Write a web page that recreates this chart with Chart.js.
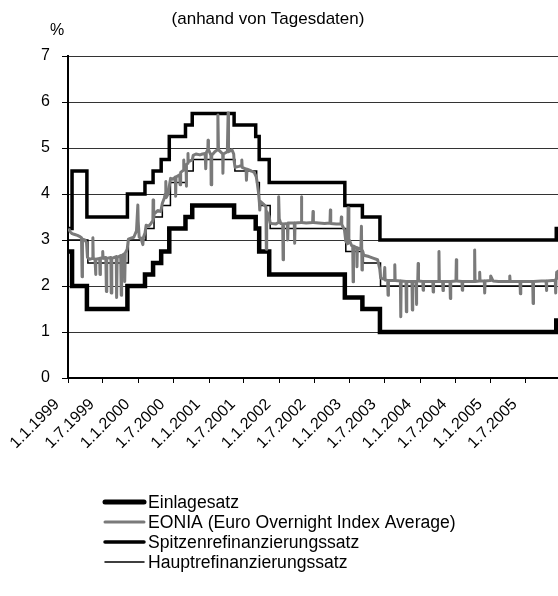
<!DOCTYPE html>
<html>
<head>
<meta charset="utf-8">
<script src="https://cdn.jsdelivr.net/npm/chart.js@4/dist/chart.umd.min.js"></script>
<style>
  html, body { margin: 0; padding: 0; background: #fff; }
  #wrap { width: 558px; height: 596px; position: relative; }
</style>
</head>
<body>
<div id="wrap"><canvas id="c"></canvas></div>
<script>
// ECB standing facilities (deposit / marginal lending), effective dates
const corridorDates = ['1999-01-01','1999-01-22','1999-04-09','1999-11-05','2000-02-04','2000-03-17',
  '2000-04-28','2000-06-09','2000-09-01','2000-10-06','2001-05-11','2001-08-31','2001-09-18',
  '2001-11-09','2002-12-06','2003-03-07','2003-06-06','2005-12-06','2005-12-31'];
const depositRate = [2.75,2.00,1.50,2.00,2.25,2.50,2.75,3.25,3.50,3.75,3.50,3.25,2.75,2.25,1.75,1.50,1.00,1.25,1.25];
const lendingRate = [3.25,4.50,3.50,4.00,4.25,4.50,4.75,5.25,5.50,5.75,5.50,5.25,4.75,4.25,3.75,3.50,3.00,3.25,3.25];

// Main refinancing operations rate
const mainRateDates = ['1999-01-01','1999-04-14','1999-11-10','2000-02-09','2000-03-22','2000-05-04',
  '2000-06-15','2000-09-06','2000-10-11','2001-05-15','2001-09-05','2001-09-19','2001-11-14',
  '2002-12-11','2003-03-12','2003-06-09','2005-12-06','2005-12-31'];
const mainRate = [3.00,2.50,3.00,3.25,3.50,3.75,4.25,4.50,4.75,4.50,4.25,3.75,3.25,2.75,2.50,2.00,2.25,2.25];

// EONIA, daily observations (selected days)
const eoniaDates = [
  '1999-01-04','1999-01-12','1999-01-22','1999-02-05','1999-02-19','1999-03-01','1999-03-12','1999-03-15','1999-03-17','1999-03-29',
  '1999-04-07','1999-04-12','1999-04-23','1999-05-07','1999-05-10','1999-05-12','1999-05-21','1999-05-24','1999-05-26','1999-06-14',
  '1999-06-16','1999-06-18','1999-06-29','1999-06-30','1999-07-02','1999-07-16','1999-07-19','1999-07-21','1999-08-11','1999-08-13',
  '1999-08-16','1999-09-08','1999-09-10','1999-09-13','1999-10-01','1999-10-04','1999-10-06','1999-10-20','1999-10-22','1999-10-25',
  '1999-11-04','1999-11-10','1999-11-23','1999-12-08','1999-12-22','1999-12-29','1999-12-31',
  '2000-01-05','2000-01-14','2000-01-24','2000-01-27','2000-02-04','2000-02-10','2000-02-23','2000-03-06','2000-03-16','2000-03-17',
  '2000-03-20','2000-03-23','2000-04-10','2000-04-26','2000-05-04','2000-05-15','2000-05-19','2000-05-22','2000-05-24','2000-06-05',
  '2000-06-09','2000-06-16','2000-06-28','2000-07-11','2000-07-12','2000-07-14','2000-08-02','2000-08-04','2000-08-07','2000-08-22',
  '2000-08-23','2000-08-25','2000-09-04','2000-09-05','2000-09-07','2000-09-13','2000-09-14','2000-09-15','2000-10-06','2000-10-11',
  '2000-10-25','2000-11-15','2000-11-28','2000-12-12','2000-12-15','2000-12-18','2000-12-26','2000-12-27','2000-12-29',
  '2001-01-08','2001-01-11','2001-01-12','2001-01-15','2001-01-31','2001-02-14','2001-02-16','2001-02-19','2001-03-01','2001-03-13',
  '2001-03-14','2001-03-16','2001-04-06','2001-04-10','2001-04-12','2001-04-30','2001-05-09','2001-05-11','2001-05-16','2001-06-05',
  '2001-06-19','2001-06-20','2001-06-22','2001-07-12','2001-07-14','2001-07-17','2001-08-08','2001-08-23','2001-09-03','2001-09-07',
  '2001-09-14','2001-09-19','2001-09-21','2001-09-24','2001-10-10','2001-10-23','2001-10-25','2001-10-27','2001-11-08','2001-11-14',
  '2001-11-23','2001-12-14','2001-12-27','2001-12-28','2001-12-31',
  '2002-01-08','2002-01-18','2002-01-20','2002-01-22','2002-02-11','2002-02-13','2002-02-15','2002-03-19','2002-03-21','2002-03-23',
  '2002-04-23','2002-04-25','2002-04-27','2002-05-20','2002-06-22','2002-06-24','2002-06-26','2002-07-24','2002-08-23','2002-09-20',
  '2002-09-22','2002-09-24','2002-10-23','2002-11-16','2002-11-18','2002-11-20','2002-12-04','2002-12-11','2002-12-21','2002-12-23',
  '2002-12-27',
  '2003-01-10','2003-01-16','2003-01-18','2003-01-20','2003-02-05','2003-02-07','2003-02-09','2003-02-27','2003-03-02','2003-03-05',
  '2003-03-07','2003-03-14','2003-04-10','2003-05-05','2003-05-25','2003-06-05','2003-06-10','2003-06-27','2003-07-01','2003-07-03',
  '2003-07-16','2003-07-18','2003-07-20','2003-08-20','2003-08-22','2003-08-24','2003-09-20','2003-09-22','2003-09-24','2003-10-19',
  '2003-10-21','2003-10-23','2003-11-19','2003-11-21','2003-11-23','2003-12-10','2003-12-12','2003-12-14','2003-12-19','2003-12-21',
  '2003-12-23',
  '2004-01-14','2004-01-16','2004-01-18','2004-02-20','2004-03-06','2004-03-08','2004-03-10','2004-04-05','2004-04-07','2004-04-09',
  '2004-04-26','2004-04-28','2004-04-30','2004-06-03','2004-06-05','2004-06-07','2004-07-04','2004-07-06','2004-07-08','2004-08-04',
  '2004-08-06','2004-08-08','2004-09-15','2004-10-07','2004-10-09','2004-10-11','2004-11-02','2004-11-04','2004-11-06','2004-11-28',
  '2004-11-30','2004-12-02','2004-12-29','2004-12-31',
  '2005-01-12','2005-02-10','2005-03-10','2005-04-07','2005-04-09','2005-04-11','2005-06-01','2005-06-03','2005-06-05','2005-07-12',
  '2005-08-06','2005-08-08','2005-08-10','2005-09-20','2005-10-14','2005-10-16','2005-10-18','2005-11-15','2005-12-01','2005-12-03',
  '2005-12-05','2005-12-08','2005-12-30'
];
const eoniaValues = [
  3.25,3.18,3.14,3.12,3.10,3.08,3.05,2.20,3.02,3.00,
  2.95,2.62,2.58,2.60,3.05,2.60,2.58,2.25,2.58,2.60,
  2.25,2.60,2.62,2.75,2.60,2.62,1.88,2.60,2.62,1.85,
  2.60,2.64,1.75,2.62,2.66,1.80,2.66,2.70,2.10,2.72,
  2.80,3.02,3.04,3.06,3.20,3.76,3.40,
  3.06,3.04,2.90,3.06,3.15,3.32,3.30,3.36,3.42,3.87,
  3.47,3.57,3.64,3.62,3.80,3.92,4.00,4.27,3.92,4.02,
  4.17,4.34,4.32,4.37,3.95,4.37,4.42,4.20,4.47,4.52,
  4.74,4.56,4.60,4.17,4.64,4.67,4.88,4.70,4.74,4.84,
  4.87,4.85,4.87,4.88,4.55,4.90,4.97,5.17,4.97,
  4.87,4.84,4.20,4.84,4.92,4.96,5.72,4.96,4.92,4.87,
  4.45,4.87,4.92,5.76,4.92,4.96,4.87,4.72,4.58,4.60,
  4.62,4.74,4.58,4.54,4.30,4.54,4.50,4.47,4.37,4.27,
  4.05,3.82,3.65,3.84,3.78,3.72,2.80,3.62,3.52,3.37,
  3.36,3.35,3.38,3.94,3.46,
  3.36,3.35,2.57,3.35,3.36,3.00,3.37,3.37,2.93,3.37,
  3.38,3.94,3.38,3.37,3.38,3.62,3.38,3.37,3.36,3.37,
  3.65,3.36,3.35,3.35,3.50,3.34,3.22,2.97,2.92,3.70,
  3.02,
  2.88,2.86,2.09,2.87,2.83,2.42,2.83,2.80,3.30,2.35,
  2.77,2.67,2.64,2.60,2.57,2.37,2.17,2.15,2.40,2.13,
  2.12,1.80,2.12,2.12,2.46,2.12,2.11,1.33,2.11,2.10,
  1.44,2.10,2.10,1.48,2.10,2.10,1.60,2.10,2.11,2.49,
  2.11,
  2.10,1.91,2.10,2.10,2.10,1.87,2.10,2.10,2.75,2.10,
  2.10,1.90,2.10,2.10,1.73,2.10,2.11,2.57,2.11,2.10,
  1.91,2.10,2.10,2.10,2.78,2.10,2.11,2.30,2.11,2.11,
  1.85,2.11,2.12,2.22,
  2.11,2.10,2.10,2.10,2.22,2.10,2.10,1.83,2.10,2.10,
  2.10,1.62,2.10,2.11,2.11,1.90,2.11,2.12,2.12,1.85,
  2.16,2.30,2.36
];

// Half-yearly axis labels
const tickLabels = ['1.1.1999','1.7.1999','1.1.2000','1.7.2000','1.1.2001','1.7.2001','1.1.2002',
  '1.7.2002','1.1.2003','1.7.2003','1.1.2004','1.7.2004','1.1.2005','1.7.2005'];

const seriesNames = ['Einlagesatz','EONIA (Euro Overnight Index Average)','Spitzenrefinanzierungssatz','Hauptrefinanzierungssatz'];
const chartTitle = '(anhand von Tagesdaten)';
const unitLabel = '%';

// day numbers counted from 1 Jan 1999
const ORIGIN = Date.UTC(1999, 0, 1);
const DAY = 86400000;
function isoDay(s) { const [y, m, d] = s.split('-').map(Number); return (Date.UTC(y, m - 1, d) - ORIGIN) / DAY; }
function labelDay(s) { const [d, m, y] = s.split('.').map(Number); return (Date.UTC(y, m - 1, d) - ORIGIN) / DAY; }
function toPoints(dates, values) { return dates.map((s, i) => ({ x: isoDay(s), y: values[i] })); }
const tickDays = tickLabels.map(labelDay);

const FONT = '"Liberation Sans", Arial, Helvetica, sans-serif';

const annotations = {
  id: 'annotations',
  afterDraw(chart) {
    const ctx = chart.ctx;
    ctx.save();
    ctx.fillStyle = '#000';
    ctx.textBaseline = 'middle';
    ctx.font = '17px ' + FONT;
    ctx.textAlign = 'center';
    ctx.fillText(chartTitle, 268, 19);
    ctx.font = '16px ' + FONT;
    ctx.fillText(unitLabel, 57, 31);

    // stacked legend
    const rowY = [502, 522, 542, 562];
    ctx.textAlign = 'left';
    ctx.font = '17.6px ' + FONT;
    chart.data.datasets.forEach((ds, i) => {
      const y = rowY[i];
      ctx.beginPath();
      ctx.strokeStyle = ds.borderColor;
      ctx.lineWidth = ds.legendWidth;
      ctx.lineCap = 'round';
      ctx.moveTo(105, y);
      ctx.lineTo(144, y);
      ctx.stroke();
      ctx.fillStyle = '#000';
      ctx.fillText(ds.label, 148, y + 1);
    });
    ctx.restore();
  }
};

new Chart(document.getElementById('c'), {
  type: 'line',
  data: {
    datasets: [
      { label: seriesNames[0], data: toPoints(corridorDates, depositRate), stepped: true,
        borderColor: '#000', borderWidth: 4.5, legendWidth: 5, order: 1 },
      { label: seriesNames[1], data: toPoints(eoniaDates, eoniaValues),
        borderColor: '#7a7a7a', borderWidth: 3, legendWidth: 3, order: 0, borderJoinStyle: 'round' },
      { label: seriesNames[2], data: toPoints(corridorDates, lendingRate), stepped: true,
        borderColor: '#000', borderWidth: 3.5, legendWidth: 3.5, order: 1 },
      { label: seriesNames[3], data: toPoints(mainRateDates, mainRate), stepped: true,
        borderColor: '#000', borderWidth: 1.5, legendWidth: 1.5, order: 1 }
    ]
  },
  options: {
    responsive: true,
    maintainAspectRatio: false,
    animation: false,
    devicePixelRatio: 1,
    layout: { padding: { top: 56, left: 0, right: 0, bottom: 0 } },
    elements: { point: { radius: 0, hoverRadius: 0 }, line: { tension: 0 } },
    plugins: { legend: { display: false }, title: { display: false }, tooltip: { enabled: false } },
    scales: {
      x: {
        type: 'linear',
        min: 0,
        max: 2540,
        afterBuildTicks(scale) { scale.ticks = tickDays.map(v => ({ value: v })); },
        afterFit(scale) { scale.height = 596 - 378; },
        grid: { drawOnChartArea: false, drawTicks: true, tickLength: 5, tickColor: '#000', tickWidth: 1 },
        border: { display: true, color: '#000', width: 2 },
        ticks: {
          autoSkip: false, minRotation: 45, maxRotation: 45, padding: 12, labelOffset: -11,
          color: '#000', font: { family: FONT, size: 16 },
          callback: (v, i) => tickLabels[i]
        }
      },
      y: {
        min: 0,
        max: 7,
        afterFit(scale) { scale.width = 68; },
        grid: { color: '#333', lineWidth: 1, tickLength: 6, tickColor: '#000' },
        border: { display: true, color: '#000', width: 2 },
        ticks: { stepSize: 1, padding: 12, color: '#000', font: { family: FONT, size: 16 } }
      }
    }
  },
  plugins: [annotations]
});
</script>
</body>
</html>
